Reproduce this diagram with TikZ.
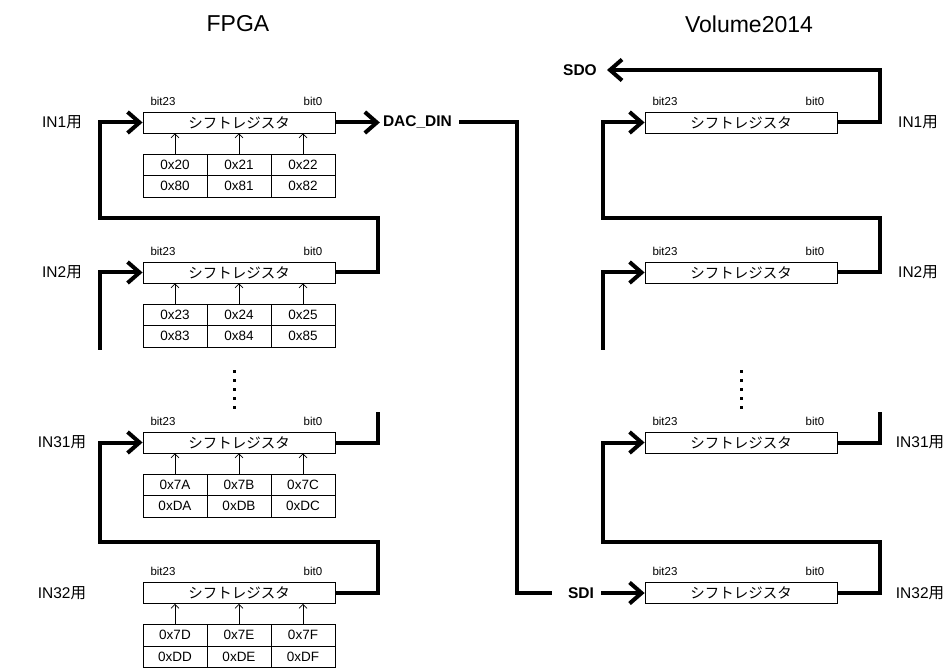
\documentclass[tikz,border=0pt]{standalone}
\usepackage{fontspec}
\setmainfont{Liberation Sans}
\newfontfamily\jp{Noto Sans CJK JP}
\usetikzlibrary{arrows.meta}
\begin{document}
\begin{tikzpicture}[x=1pt,y=-1pt,
  reg/.style={draw, line width=0.8pt, minimum width=192pt, minimum height=21pt, inner sep=0pt, font=\jp\fontsize{14.5}{14.5}\selectfont},
  cell/.style={draw, line width=0.8pt, minimum width=64pt, minimum height=21.5pt, inner sep=0pt, font=\fontsize{13.5}{13.5}\selectfont},
  bitlbl/.style={inner sep=0pt, font=\fontsize{11.5}{11.5}\selectfont},
  sidelbl/.style={inner sep=0pt, font=\fontsize{15.5}{15.5}\selectfont},
  sig/.style={inner sep=0pt, font=\bfseries\fontsize{15.5}{15.5}\selectfont},
  ttl/.style={inner sep=0pt, font=\fontsize{23}{23}\selectfont},
  bus/.style={line width=4pt, line join=miter},
  busarrow/.style={bus, -{Straight Barb[length=12pt,width=21pt]}},
  feed/.style={line width=0.7pt, -{Straight Barb[length=4pt,width=8pt,line width=0.7pt]}}
]
\useasboundingbox (0,0) rectangle (951,668);

% titles
\node[ttl] (tF) at (238,24) {FPGA};
\node[ttl] (tV) at (749,24) {Volume2014};

% left registers with tables
\foreach \n/\y/\a/\b/\c/\d/\e/\f in {
  L1/122.5/0x20/0x21/0x22/0x80/0x81/0x82,
  L2/272.5/0x23/0x24/0x25/0x83/0x84/0x85,
  L31/442.5/0x7A/0x7B/0x7C/0xDA/0xDB/0xDC,
  L32/593/0x7D/0x7E/0x7F/0xDD/0xDE/0xDF}{
  \node[reg] (\n) at (239,\y) {シフトレジスタ};
  \node[bitlbl] (\n-b23) at (163,\y-21.5) {bit23};
  \node[bitlbl] (\n-b0) at (313,\y-21.5) {bit0};
  \node[cell] (\n-t1) at (175,\y+42.25) {\a};
  \node[cell] (\n-t2) at (239,\y+42.25) {\b};
  \node[cell] (\n-t3) at (303,\y+42.25) {\c};
  \node[cell] (\n-t4) at (175,\y+63.75) {\d};
  \node[cell] (\n-t5) at (239,\y+63.75) {\e};
  \node[cell] (\n-t6) at (303,\y+63.75) {\f};
  \draw[feed] (\n-t1.north) -- (\n-t1.north |- \n.south);
  \draw[feed] (\n-t2.north) -- (\n-t2.north |- \n.south);
  \draw[feed] (\n-t3.north) -- (\n-t3.north |- \n.south);
}

% right registers
\foreach \n/\y in {R1/122.5, R2/272.5, R31/442.5, R32/593}{
  \node[reg] (\n) at (741,\y) {シフトレジスタ};
  \node[bitlbl] (\n-b23) at (665,\y-21.5) {bit23};
  \node[bitlbl] (\n-b0) at (815,\y-21.5) {bit0};
}

% side labels
\node[sidelbl] (lL1) at (62,122.5) {IN1{\jp 用}};
\node[sidelbl] (lL2) at (62,272.5) {IN2{\jp 用}};
\node[sidelbl] (lL31) at (62,442.5) {IN31{\jp 用}};
\node[sidelbl] (lL32) at (62,593) {IN32{\jp 用}};
\node[sidelbl] (lR1) at (918,122.5) {IN1{\jp 用}};
\node[sidelbl] (lR2) at (918,272.5) {IN2{\jp 用}};
\node[sidelbl] (lR31) at (920,442.5) {IN31{\jp 用}};
\node[sidelbl] (lR32) at (920,593) {IN32{\jp 用}};

% signal names
\node[sig] (DAC) at (417.5,122.5) {DAC\_DIN};
\node[sig] (SDI) at (581,593) {SDI};
\node[sig] (SDO) at (580,70) {SDO};

% dots
\foreach \k in {0,...,4}{
  \fill (232.5,370.5+9*\k) rectangle ++(3,3);
  \fill (739.5,370.5+9*\k) rectangle ++(3,3);
}

% FPGA chain
\coordinate (L2in) at (100,350);
\coordinate (L31out) at (378,412);
\draw[busarrow] (L2.east) -- (378,272.5) |- (100,218) |- (L1.west);
\draw[busarrow] (L2in) |- (L2.west);
\draw[bus] (L31.east) -| (L31out);
\draw[busarrow] (L32.east) -- (378,593) |- (100,542) |- (L31.west);
\draw[busarrow] (L1.east) -- ([xshift=-3pt]DAC.west);

% link DAC_DIN -> SDI
\draw[bus] ([xshift=7pt]DAC.east) -| (517,593) -- ([xshift=-16pt]SDI.west);
\draw[busarrow] ([xshift=7pt]SDI.east) -- (R32.west);

% Volume2014 chain
\coordinate (R2in) at (603,350);
\coordinate (R31out) at (880,412);
\draw[busarrow] (R1.east) -- (880,122.5) |- ([xshift=10pt]SDO.east);
\draw[busarrow] (R2.east) -- (880,272.5) |- (603,218) |- (R1.west);
\draw[busarrow] (R2in) |- (R2.west);
\draw[bus] (R31.east) -| (R31out);
\draw[busarrow] (R32.east) -- (880,593) |- (603,542) |- (R31.west);
\end{tikzpicture}
\end{document}
